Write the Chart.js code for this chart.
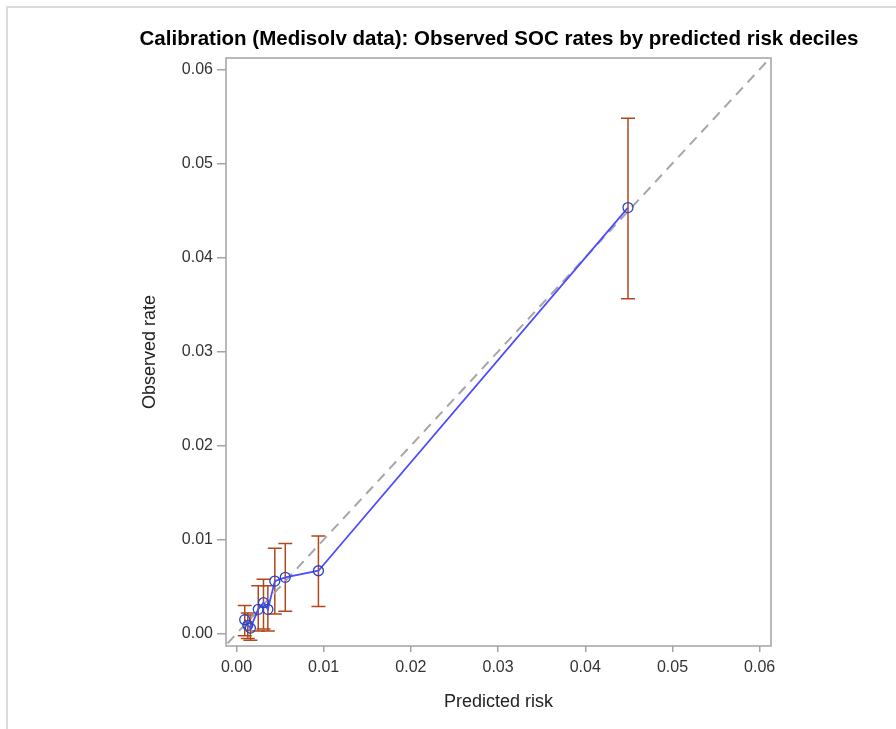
<!DOCTYPE html>
<html>
<head>
    <meta charset="UTF-8">
    <title>Calibration (Medisolv data)</title>
    <script src="https://cdn.jsdelivr.net/npm/chart.js"></script>
    <style type="text/css">
        html, body { margin: 0; padding: 0; background: #fff; }
        #frame {
            position: absolute; left: 6px; top: 6px; width: 890px; height: 723px;
            border-left: 2px solid #dcdcdc; border-top: 2px solid #dcdcdc;
        }
        #wrap { position: absolute; left: 0; top: 0; width: 896px; height: 729px; }
    </style>
</head>
<body>
<div id="frame"></div>
<div id="wrap">
    <canvas id="calChart" width="896" height="729"></canvas>
</div>

<script>
    // decile data
    const predictedRisk = [0.00095, 0.0013, 0.0016, 0.0025, 0.0031, 0.0036, 0.0044, 0.0056, 0.0094, 0.0449];
    const observedRate  = [0.0015, 0.0009, 0.0006, 0.0026, 0.0033, 0.0026, 0.0056, 0.0060, 0.0067, 0.0453];
    const lowerCI       = [-0.0002, -0.0005, -0.0007, 0.0003, 0.0005, 0.0003, 0.0021, 0.0024, 0.0029, 0.0356];
    const upperCI       = [0.0030, 0.0022, 0.0020, 0.0051, 0.0058, 0.0051, 0.0091, 0.0096, 0.0104, 0.0548];
    const tickValues    = [0, 0.01, 0.02, 0.03, 0.04, 0.05, 0.06];
    const diagonal      = [-0.005, 0.07];

    const chartTitle = 'Calibration (Medisolv data): Observed SOC rates by predicted risk deciles';

    // error bars drawn through the chart scales
    const errorBars = {
        id: 'errorBars',
        beforeDatasetsDraw(chart) {
            const ctx = chart.ctx;
            const xs = chart.scales.x, ys = chart.scales.y;
            ctx.save();
            ctx.strokeStyle = '#b3471b';
            ctx.lineWidth = 1.5;
            for (let i = 0; i < predictedRisk.length; i++) {
                const px = xs.getPixelForValue(predictedRisk[i]);
                const lo = ys.getPixelForValue(lowerCI[i]);
                const hi = ys.getPixelForValue(upperCI[i]);
                ctx.beginPath();
                ctx.moveTo(px, lo); ctx.lineTo(px, hi);
                ctx.moveTo(px - 7, lo); ctx.lineTo(px + 7, lo);
                ctx.moveTo(px - 7, hi); ctx.lineTo(px + 7, hi);
                ctx.stroke();
            }
            ctx.restore();
        }
    };

    // frame round the plot and the title on top
    const frameAndTitle = {
        id: 'frameAndTitle',
        afterDraw(chart) {
            const ctx = chart.ctx;
            const a = chart.chartArea;
            ctx.save();
            ctx.strokeStyle = '#a3a3a3';
            ctx.lineWidth = 1.5;
            ctx.strokeRect(a.left, a.top, a.right - a.left, a.bottom - a.top);
            ctx.fillStyle = '#000';
            ctx.font = 'bold 20.5px "Liberation Sans", Arial, sans-serif';
            ctx.textAlign = 'center';
            ctx.textBaseline = 'alphabetic';
            ctx.fillText(chartTitle, 499, 45);
            ctx.restore();
        }
    };

    const setTicks = function(scale) {
        scale.ticks = tickValues.map(v => ({ value: v }));
    };

    Chart.defaults.font.family = '"Liberation Sans", Arial, sans-serif';
    Chart.defaults.color = '#333';

    const ctx = document.getElementById('calChart').getContext('2d');
    new Chart(ctx, {
        type: 'scatter',
        data: {
            datasets: [{
                label: 'Observed rate',
                data: predictedRisk.map((x, i) => ({ x: x, y: observedRate[i] })),
                showLine: true,
                borderColor: '#4d4dff',
                borderWidth: 1.8,
                pointRadius: 5,
                pointBorderWidth: 1.3,
                pointBorderColor: '#2546c4',
                pointBackgroundColor: 'rgba(0,0,0,0)',
                order: 1
            }, {
                label: 'Reference',
                data: diagonal.map(v => ({ x: v, y: v })),
                showLine: true,
                borderColor: '#a6a6a6',
                borderWidth: 2,
                borderDash: [10, 7],
                pointRadius: 0,
                clip: 0,
                order: 2
            }]
        },
        options: {
            responsive: false,
            animation: false,
            layout: { padding: { top: 58, right: 125, left: 0, bottom: 0 } },
            plugins: {
                legend: { display: false },
                tooltip: { enabled: false }
            },
            scales: {
                x: {
                    type: 'linear',
                    min: -0.0012,
                    max: 0.0613,
                    afterBuildTicks: setTicks,
                    afterFit: function(scale) { scale.height = 83; },
                    grid: { drawOnChartArea: false, color: '#a3a3a3', tickLength: 6, lineWidth: 1.5 },
                    border: { display: false },
                    ticks: {
                        padding: 6,
                        maxRotation: 0,
                        font: { size: 16 },
                        callback: v => v.toFixed(2)
                    },
                    title: {
                        display: true,
                        text: 'Predicted risk',
                        color: '#222',
                        font: { size: 18 },
                        padding: { top: 0, bottom: 16 }
                    }
                },
                y: {
                    type: 'linear',
                    min: -0.0013,
                    max: 0.0612,
                    afterBuildTicks: setTicks,
                    afterFit: function(scale) { scale.width = 226; },
                    grid: { drawOnChartArea: false, color: '#a3a3a3', tickLength: 9, lineWidth: 1.5 },
                    border: { display: false },
                    ticks: {
                        padding: 4,
                        font: { size: 16 },
                        callback: v => v.toFixed(2)
                    },
                    title: {
                        display: true,
                        text: 'Observed rate',
                        color: '#222',
                        font: { size: 18 },
                        padding: { top: 139, bottom: 0 }
                    }
                }
            }
        },
        plugins: [errorBars, frameAndTitle]
    });
</script>
</body>
</html>
